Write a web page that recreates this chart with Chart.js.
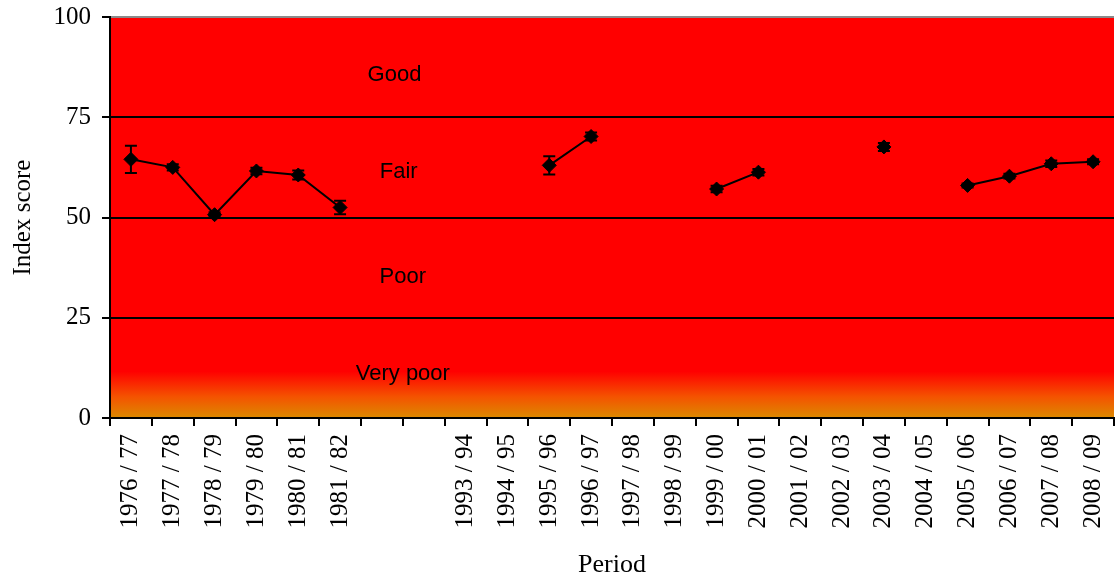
<!DOCTYPE html>
<html><head><meta charset="utf-8">
<script src="https://cdn.jsdelivr.net/npm/chart.js@4"></script>
<style>html,body{margin:0;padding:0;background:#fff}</style>
</head><body>
<canvas id="c" width="1115" height="585"></canvas>
<script>
const periods = ["1976 / 77","1977 / 78","1978 / 79","1979 / 80","1980 / 81","1981 / 82","","",
  "1993 / 94","1994 / 95","1995 / 96","1996 / 97","1997 / 98","1998 / 99","1999 / 00","2000 / 01",
  "2001 / 02","2002 / 03","2003 / 04","2004 / 05","2005 / 06","2006 / 07","2007 / 08","2008 / 09"];
const scores = [64.5, 62.5, 50.7, 61.6, 60.6, 52.5, null, null,
  null, null, 63.0, 70.2, null, null, 57.1, 61.3,
  null, null, 67.6, null, 58.0, 60.3, 63.4, 63.9];
const errors = [3.4, 0.8, 0.6, 0.8, 1.1, 1.7, null, null,
  null, null, 2.3, 1.0, null, null, 0.8, 0.8,
  null, null, 1.0, null, 0.5, 0.6, 0.8, 0.6];
const zoneNames = ["Good", "Fair", "Poor", "Very poor"];
const zoneLabelY = [85.6, 61.3, 35.3, 11.0];
const zoneLabelX = [6.3, 6.4, 6.5, 6.5];
const yTickValues = [0, 25, 50, 75, 100];

const serif = "'Liberation Serif', 'Times New Roman', serif";
const sans = "'Liberation Sans', Arial, sans-serif";

const bgPlugin = {
  id: 'bg',
  beforeDraw(chart) {
    const {ctx, chartArea: a, scales: {y}} = chart;
    ctx.save();
    ctx.fillStyle = '#FF0000';
    ctx.fillRect(a.left, a.top, a.right - a.left, a.bottom - a.top);
    const yTop = y.getPixelForValue(11.6);
    const g = ctx.createLinearGradient(0, yTop, 0, a.bottom);
    g.addColorStop(0, '#FF0000');
    g.addColorStop(0.55, '#F45400');
    g.addColorStop(1, '#DC8A00');
    ctx.fillStyle = g;
    ctx.fillRect(a.left, yTop, a.right - a.left, a.bottom - yTop);
    ctx.restore();
  },
  beforeDatasetsDraw(chart) {
    const {ctx, scales: {x, y}} = chart;
    ctx.save();
    ctx.font = "22px " + sans;
    ctx.fillStyle = '#000';
    ctx.textAlign = 'center';
    ctx.textBaseline = 'middle';
    zoneNames.forEach((n, i) => {
      ctx.fillText(n, x.getPixelForValue(zoneLabelX[i]), y.getPixelForValue(zoneLabelY[i]));
    });
    ctx.strokeStyle = '#000';
    ctx.lineWidth = 2;
    scores.forEach((v, i) => {
      if (v == null || errors[i] == null) return;
      const px = x.getPixelForValue(i);
      const hi = y.getPixelForValue(v + errors[i]);
      const lo = y.getPixelForValue(v - errors[i]);
      ctx.beginPath();
      ctx.moveTo(px, hi); ctx.lineTo(px, lo);
      ctx.moveTo(px - 6, hi); ctx.lineTo(px + 6, hi);
      ctx.moveTo(px - 6, lo); ctx.lineTo(px + 6, lo);
      ctx.stroke();
    });
    ctx.restore();
  }
};

new Chart(document.getElementById('c'), {
  type: 'line',
  data: {
    labels: periods,
    datasets: [{
      data: scores,
      borderColor: '#000',
      borderWidth: 2,
      backgroundColor: '#000',
      pointStyle: 'rectRot',
      pointRadius: 7,
      pointBorderWidth: 1,
      pointBackgroundColor: '#000',
      pointBorderColor: '#000',
      spanGaps: false,
      tension: 0
    }]
  },
  options: {
    responsive: false,
    animation: false,
    devicePixelRatio: 1,
    layout: {autoPadding: false, padding: {top: 17, right: 1, left: 0, bottom: 0}},
    plugins: {legend: {display: false}, tooltip: {enabled: false}},
    scales: {
      x: {
        offset: true,
        grid: {offset: true, drawOnChartArea: false, drawTicks: true, tickLength: 8, color: '#000', lineWidth: 2},
        border: {display: true, color: '#000', width: 2},
        ticks: {autoSkip: false, maxRotation: 90, minRotation: 90, padding: 8, color: '#000', font: {family: serif, size: 25}},
        title: {display: true, text: 'Period', color: '#000', font: {family: serif, size: 26}, padding: {top: 0, bottom: 4}},
        afterFit(s) { s.height = 167; s.paddingLeft = 0; s.paddingRight = 0; }
      },
      y: {
        min: 0, max: 100,
        afterBuildTicks(s) { s.ticks = yTickValues.map(v => ({value: v})); },
        grid: {
          drawTicks: true, tickLength: 8, tickColor: '#000',
          color: ctx => (ctx.tick && ctx.tick.value === 100) ? '#8a8a8a' : '#000',
          lineWidth: 2
        },
        border: {display: true, color: '#000', width: 2},
        ticks: {padding: 11, color: '#000', font: {family: serif, size: 25}},
        title: {display: true, text: 'Index score', color: '#000', font: {family: serif, size: 25}, padding: {top: 8, bottom: 0}},
        afterFit(s) { s.width = 110; s.paddingTop = 0; s.paddingBottom = 0; }
      }
    }
  },
  plugins: [bgPlugin]
});
</script>
</body></html>
